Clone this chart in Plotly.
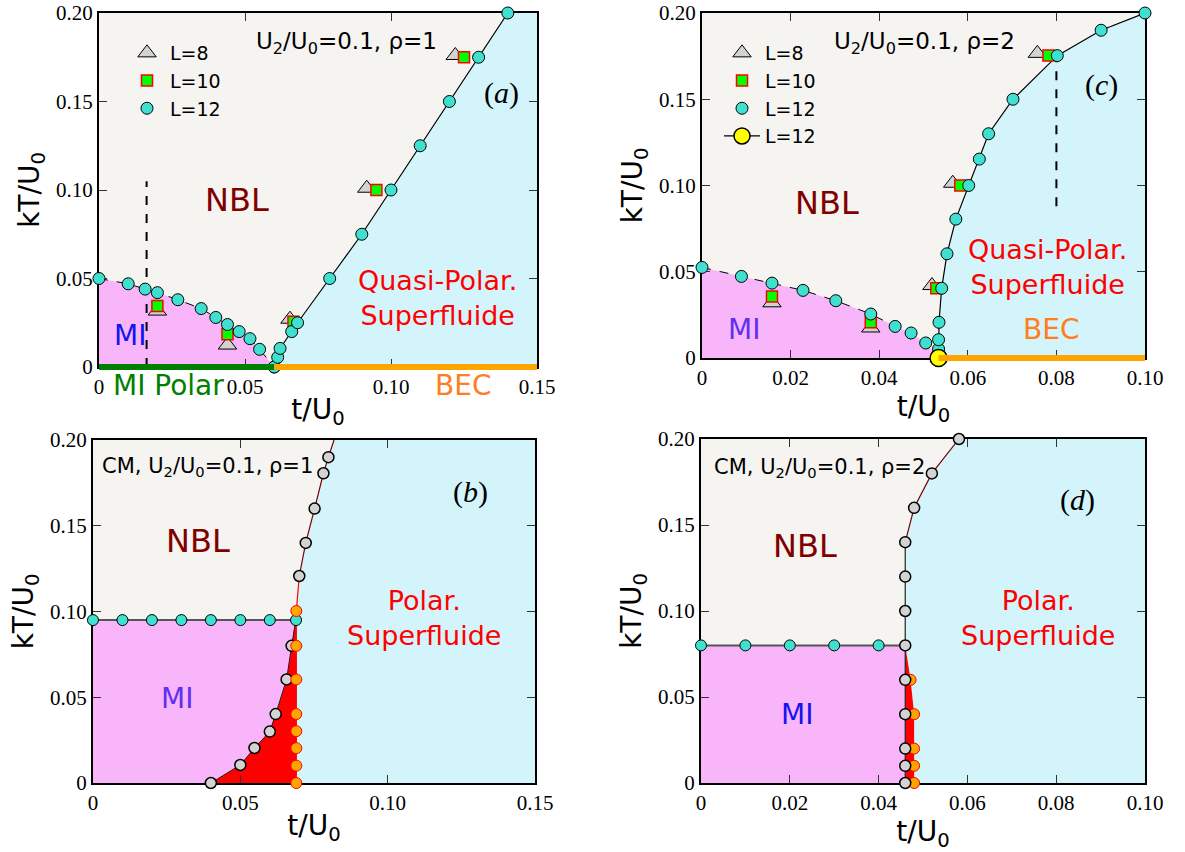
import plotly.graph_objects as go

# ---------------- Panel (a): U2/U0=0.1, rho=1 ----------------
a_mi_t = [0.0, 0.010, 0.0158, 0.020, 0.027, 0.035, 0.040, 0.044, 0.048, 0.0517, 0.055, 0.060]
a_mi_kT = [0.050, 0.047, 0.044, 0.042, 0.038, 0.033, 0.028, 0.024, 0.020, 0.016, 0.010, 0.0]
a_sf_t = [0.060, 0.0612, 0.062, 0.066, 0.068, 0.079, 0.090, 0.100, 0.110, 0.120, 0.130, 0.140]
a_sf_kT = [0.0, 0.0055, 0.0105, 0.020, 0.025, 0.050, 0.075, 0.100, 0.125, 0.150, 0.175, 0.200]
a_L10_t = [0.020, 0.044, 0.0666, 0.095, 0.125]
a_L10_kT = [0.0345, 0.0185, 0.0256, 0.100, 0.175]
a_L8_t = [0.020, 0.044, 0.0654, 0.0917, 0.122]
a_L8_kT = [0.0316, 0.0124, 0.027, 0.101, 0.176]
a_cross_t = [0.0163, 0.0163]
a_cross_kT = [0.0, 0.105]
a_mipolar_t = [0.0, 0.060]
a_mipolar_kT = [0.0, 0.0]
a_bec_t = [0.060, 0.150]
a_bec_kT = [0.0, 0.0]

# ---------------- Panel (c): U2/U0=0.1, rho=2 ----------------
c_mi_t = [0.0, 0.0089, 0.0158, 0.0228, 0.0302, 0.0381, 0.0436, 0.0472, 0.0505, 0.0534]
c_mi_kT = [0.0525, 0.0473, 0.0434, 0.0392, 0.0332, 0.0255, 0.0183, 0.0145, 0.0087, 0.0]
c_sf_t = [0.0534, 0.0534, 0.0534, 0.0535, 0.0541, 0.0553, 0.0573, 0.0602, 0.0626, 0.0647, 0.0702, 0.0802, 0.0901, 0.100]
c_sf_kT = [0.0, 0.0052, 0.0106, 0.0207, 0.0404, 0.0604, 0.0805, 0.100, 0.1153, 0.130, 0.150, 0.1753, 0.190, 0.200]
c_L10_t = [0.0158, 0.0381, 0.0529, 0.0583, 0.0782]
c_L10_kT = [0.0357, 0.0207, 0.0404, 0.100, 0.1753]
c_L8_t = [0.0158, 0.0381, 0.0519, 0.0566, 0.0757]
c_L8_kT = [0.032, 0.0174, 0.042, 0.1013, 0.1766]
c_yel_t = [0.0534]
c_yel_kT = [0.0]
c_cross_t = [0.080, 0.080]
c_cross_kT = [0.088, 0.175]
c_bec_t = [0.0534, 0.100]
c_bec_kT = [0.0, 0.0]

# ---------------- Panel (b): CM, rho=1 ----------------
b_mi_t = [0.0, 0.010, 0.020, 0.030, 0.040, 0.050, 0.060, 0.0689]
b_mi_kT = [0.095, 0.095, 0.095, 0.095, 0.095, 0.095, 0.095, 0.095]
b_low_t = [0.040, 0.050, 0.0548, 0.060, 0.062, 0.0657, 0.0674]
b_low_kT = [0.0, 0.0105, 0.0204, 0.030, 0.0402, 0.0604, 0.080]
b_up_t = [0.070, 0.0722, 0.0752, 0.0782, 0.0799]
b_up_kT = [0.1207, 0.140, 0.160, 0.1806, 0.190]
b_up_end_t = [0.0818]
b_up_end_kT = [0.200]
b_or_t = [0.069, 0.069, 0.069, 0.069, 0.069, 0.069, 0.069, 0.069]
b_or_kT = [0.0, 0.0101, 0.0203, 0.0302, 0.0402, 0.0604, 0.080, 0.1003]

# ---------------- Panel (d): CM, rho=2 ----------------
d_mi_t = [0.0, 0.010, 0.020, 0.030, 0.040]
d_mi_kT = [0.080, 0.080, 0.080, 0.080, 0.080]
d_gr_t = [0.046, 0.046, 0.046, 0.046, 0.046, 0.046, 0.046, 0.046, 0.046, 0.048, 0.052, 0.0581]
d_gr_kT = [0.0, 0.010, 0.020, 0.040, 0.060, 0.080, 0.100, 0.120, 0.140, 0.160, 0.180, 0.200]
d_or_t = [0.048, 0.048, 0.048, 0.048, 0.0472]
d_or_kT = [0.0, 0.010, 0.020, 0.040, 0.060]

# ---------------- axes ticks ----------------
tick15_vals = [0.0, 0.05, 0.10, 0.15]
tick15_text = ["0", "0.05", "0.10", "0.15"]
tick15_minor = [0.025, 0.075, 0.125]
tick10_vals = [0.0, 0.02, 0.04, 0.06, 0.08, 0.10]
tick10_text = ["0", "0.02", "0.04", "0.06", "0.08", "0.10"]
tick10_minor = [0.01, 0.03, 0.05, 0.07, 0.09]
ticky_vals = [0.0, 0.05, 0.10, 0.15, 0.20]
ticky_text = ["0", "0.05", "0.10", "0.15", "0.20"]
ticky_minor = [0.025, 0.075, 0.125, 0.175]

C_NBL = "#F5F4F0"
C_MI = "#F9B5F9"
C_SF = "#D4F4FC"
C_CYAN = "#40E0D0"
C_GRAY = "#D3D3D3"
C_ORANGE = "#FFA500"
SANS = "DejaVu Sans"
SERIF = "Liberation Serif"
KT_RANGE = [0, 0.20]

W, H = 1185, 852


def px2fx(px):
    return px / W


def px2fy(py):
    return 1 - py / H


fig = go.Figure()
shapes = []


def poly(ts, ks, xa, ya, color):
    pts = " L ".join(f"{t},{k}" for t, k in zip(ts, ks))
    shapes.append(dict(type="path", path="M " + pts + " Z", xref=xa, yref=ya,
                       fillcolor=color, line=dict(width=0), layer="below"))


def bar(ts, ks, xa, ya, color):
    # horizontal phase bar on the kT axis; y given as fraction of the kT range
    f0 = (ks[0] - KT_RANGE[0]) / (KT_RANGE[1] - KT_RANGE[0])
    f1 = (ks[1] - KT_RANGE[0]) / (KT_RANGE[1] - KT_RANGE[0])
    shapes.append(dict(type="line", xref=xa, yref=ya + " domain", x0=ts[0], x1=ts[1],
                       y0=f0, y1=f1, line=dict(color=color, width=6), layer="above"))


def line(ts, ks, xa, ya, color="black", width=1.2, dash="solid"):
    fig.add_trace(go.Scatter(x=ts, y=ks, xaxis=xa, yaxis=ya, mode="lines",
                             line=dict(color=color, width=width, dash=dash),
                             showlegend=False, cliponaxis=False, hoverinfo="skip"))


def marks(ts, ks, xa, ya, symbol, size, color, lcolor="black", lwidth=1.0,
          name=None, legend=None, mode="markers"):
    fig.add_trace(go.Scatter(x=ts, y=ks, xaxis=xa, yaxis=ya, mode=mode,
                             marker=dict(symbol=symbol, size=size, color=color,
                                         line=dict(color=lcolor, width=lwidth)),
                             line=dict(color="black", width=1.2),
                             name=name, showlegend=name is not None,
                             legend=legend if legend else "legend",
                             cliponaxis=False))


# ===== Panel (a) =====
poly(a_mi_t + [0.0], a_mi_kT + [0.0], "x", "y", C_MI)
poly(a_sf_t + [0.15, 0.15], a_sf_kT + [0.20, 0.0], "x", "y", C_SF)
line(a_mi_t, a_mi_kT, "x", "y", width=1, dash="dash")
line(a_sf_t, a_sf_kT, "x", "y")
line(a_cross_t, a_cross_kT, "x", "y", width=2, dash="dash")
bar(a_mipolar_t, a_mipolar_kT, "x", "y", "#008000")
bar(a_bec_t, a_bec_kT, "x", "y", C_ORANGE)
marks(a_L8_t, a_L8_kT, "x", "y", "triangle-up", 16, C_GRAY, name="L=8", legend="legend")
marks(a_L10_t, a_L10_kT, "x", "y", "square", 11, "#00FF00", lcolor="#FF0000", lwidth=1.5,
      name="L=10", legend="legend")
marks(a_mi_t + a_sf_t, a_mi_kT + a_sf_kT, "x", "y", "circle", 12, C_CYAN, name="L=12",
      legend="legend")

# ===== Panel (c) =====
poly(c_mi_t + [0.0], c_mi_kT + [0.0], "x2", "y2", C_MI)
poly(c_sf_t + [0.10, 0.10], c_sf_kT + [0.20, 0.0], "x2", "y2", C_SF)
line(c_mi_t, c_mi_kT, "x2", "y2", width=1, dash="dash")
line(c_sf_t, c_sf_kT, "x2", "y2")
line(c_cross_t, c_cross_kT, "x2", "y2", width=2, dash="dash")
bar(c_bec_t, c_bec_kT, "x2", "y2", C_ORANGE)
marks(c_L8_t, c_L8_kT, "x2", "y2", "triangle-up", 16, C_GRAY, name="L=8", legend="legend2")
marks(c_L10_t, c_L10_kT, "x2", "y2", "square", 11, "#00FF00", lcolor="#FF0000", lwidth=1.5,
      name="L=10", legend="legend2")
marks(c_mi_t + c_sf_t, c_mi_kT + c_sf_kT, "x2", "y2", "circle", 12, C_CYAN, name="L=12",
      legend="legend2")
marks(c_yel_t, c_yel_kT, "x2", "y2", "circle", 17, "#FFFF00", lwidth=1.5, name="L=12",
      legend="legend2", mode="lines+markers")

# ===== Panel (b) =====
poly([b_or_t[0]] + b_or_t[-1:] + b_up_t + b_up_end_t + [0.15, 0.15],
     [b_or_kT[0]] + b_or_kT[-1:] + b_up_kT + b_up_end_kT + [0.20, 0.0], "x3", "y3", C_SF)
poly([0.0, 0.0] + b_mi_t[-1:] + b_mi_t[-1:], [0.0] + b_mi_kT[:1] + b_mi_kT[-1:] + [0.0],
     "x3", "y3", C_MI)
poly(b_low_t + b_or_t[::-1], b_low_kT + b_or_kT[::-1], "x3", "y3", "#FF0000")
line(b_mi_t, b_mi_kT, "x3", "y3", color="#555555", width=2)
line(b_low_t + b_mi_t[-1:], b_low_kT + b_mi_kT[-1:], "x3", "y3", color="#222222", width=1)
line(b_or_t + b_up_t[:1], b_or_kT + b_up_kT[:1], "x3", "y3", color="#FF0000", width=1.2)
line(b_up_t + b_up_end_t, b_up_kT + b_up_end_kT, "x3", "y3", color="#7A0000", width=1.2)
marks(b_low_t + b_up_t, b_low_kT + b_up_kT, "x3", "y3", "circle", 11, C_GRAY, lwidth=1.5)
marks(b_mi_t, b_mi_kT, "x3", "y3", "circle", 11, C_CYAN)
marks(b_or_t, b_or_kT, "x3", "y3", "circle", 11, C_ORANGE, lcolor="#FF0000", lwidth=1)

# ===== Panel (d) =====
poly(d_gr_t + [0.10, 0.10], d_gr_kT + [0.20, 0.0], "x4", "y4", C_SF)
poly([0.0, 0.0, d_gr_t[5], d_gr_t[0]], [0.0, d_mi_kT[0], d_gr_kT[5], 0.0], "x4", "y4", C_MI)
poly(d_gr_t[5:6] + d_gr_t[:1] + d_or_t, d_gr_kT[5:6] + d_gr_kT[:1] + d_or_kT,
     "x4", "y4", "#FF0000")
line(d_mi_t + d_gr_t[5:6], d_mi_kT + d_gr_kT[5:6], "x4", "y4", color="#555555", width=2)
line(d_gr_t[:9], d_gr_kT[:9], "x4", "y4", color="#222222", width=1.2)
line(d_gr_t[8:], d_gr_kT[8:], "x4", "y4", color="#7A0000", width=1.2)
marks(d_or_t, d_or_kT, "x4", "y4", "circle", 11, C_ORANGE, lcolor="#FF0000", lwidth=1)
marks(d_gr_t, d_gr_kT, "x4", "y4", "circle", 11, C_GRAY, lwidth=1.5)
marks(d_mi_t, d_mi_kT, "x4", "y4", "circle", 11, C_CYAN)


# ---------------- layout ----------------
def axis(domain, rng, vals, text, title, standoff):
    return dict(domain=domain, range=rng, tickmode="array", tickvals=vals, ticktext=text,
                showline=True, linecolor="black", linewidth=2, mirror="allticks",
                ticks="inside", ticklen=8, tickwidth=1, tickcolor="#333333",
                showgrid=False, zeroline=False, layer="below traces", automargin=False,
                ticklabeloverflow="allow",
                tickfont=dict(family=SERIF, size=21, color="black"),
                title=dict(text=title, standoff=standoff,
                           font=dict(family=SANS, size=28, color="black")))


def minor_axis(over, anchor, rng, vals):
    # overlay axis carrying only the unlabeled minor ticks
    return dict(overlaying=over, anchor=anchor, range=rng, tickmode="array", tickvals=vals,
                showticklabels=False, ticks="inside", ticklen=6, tickwidth=1,
                tickcolor="#333333", mirror="ticks", showline=False, showgrid=False,
                zeroline=False, layer="below traces", automargin=False)


XT = "t/U<sub>0</sub>"
YT = "kT/U<sub>0</sub>"
dom = {
    "x": [px2fx(99), px2fx(537)], "y": [px2fy(367), px2fy(13)],
    "x2": [px2fx(702), px2fx(1145)], "y2": [px2fy(358), px2fy(13)],
    "x3": [px2fx(93), px2fx(535)], "y3": [px2fy(783), px2fy(440)],
    "x4": [px2fx(701), px2fx(1145)], "y4": [px2fy(783), px2fy(439)],
}
fig.update_layout(
    template="none", width=W, height=H, autosize=False,
    margin=dict(l=0, r=0, t=0, b=0),
    paper_bgcolor="white", plot_bgcolor=C_NBL,
    font=dict(family=SANS, color="black"),
    xaxis=dict(axis(dom["x"], [0, 0.15], tick15_vals, tick15_text, XT, 1), anchor="y"),
    yaxis=dict(axis(dom["y"], KT_RANGE, ticky_vals, ticky_text, YT, 8), anchor="x"),
    xaxis2=dict(axis(dom["x2"], [0, 0.10], tick10_vals, tick10_text, XT, 1), anchor="y2"),
    yaxis2=dict(axis(dom["y2"], KT_RANGE, ticky_vals, ticky_text, YT, 8), anchor="x2"),
    xaxis3=dict(axis(dom["x3"], [0, 0.15], tick15_vals, tick15_text, XT, 1), anchor="y3"),
    yaxis3=dict(axis(dom["y3"], KT_RANGE, ticky_vals, ticky_text, YT, 8), anchor="x3"),
    xaxis4=dict(axis(dom["x4"], [0, 0.10], tick10_vals, tick10_text, XT, 1), anchor="y4"),
    yaxis4=dict(axis(dom["y4"], KT_RANGE, ticky_vals, ticky_text, YT, 8), anchor="x4"),
    xaxis5=minor_axis("x", "y", [0, 0.15], tick15_minor),
    yaxis5=minor_axis("y", "x", KT_RANGE, ticky_minor),
    xaxis6=minor_axis("x2", "y2", [0, 0.10], tick10_minor),
    yaxis6=minor_axis("y2", "x2", KT_RANGE, ticky_minor),
    xaxis7=minor_axis("x3", "y3", [0, 0.15], tick15_minor),
    yaxis7=minor_axis("y3", "x3", KT_RANGE, ticky_minor),
    xaxis8=minor_axis("x4", "y4", [0, 0.10], tick10_minor),
    yaxis8=minor_axis("y4", "x4", KT_RANGE, ticky_minor),
    legend=dict(x=px2fx(124), y=px2fy(34), xanchor="left", yanchor="top",
                bgcolor="rgba(0,0,0,0)", font=dict(family=SANS, size=19),
                tracegroupgap=0, itemwidth=36),
    legend2=dict(x=px2fx(719), y=px2fy(34), xanchor="left", yanchor="top",
                 bgcolor="rgba(0,0,0,0)", font=dict(family=SANS, size=19),
                 tracegroupgap=0, itemwidth=36),
    shapes=shapes,
)

annots = []


def note(s, fx, fy, text, size, color, family=SANS):
    annots.append(dict(xref=f"x{s} domain", yref=f"y{s} domain", x=fx, y=fy, text=text,
                       showarrow=False, xanchor="center", yanchor="middle",
                       font=dict(family=family, size=size, color=color)))


# (a)
note("", 0.566, 0.915, "U<sub>2</sub>/U<sub>0</sub>=0.1, ρ=1", 23, "black")
note("", 0.920, 0.774, "(<i>a</i>)", 30, "black", SERIF)
note("", 0.315, 0.472, "NBL", 32, "#800000")
note("", 0.071, 0.090, "MI", 28, "#1414F0")
note("", 0.773, 0.196, "Quasi-Polar.<br>Superfluide", 27, "#FF0000")
note("", 0.158, -0.051, "MI Polar", 28, "#008000")
note("", 0.831, -0.051, "BEC", 28, "#FF7F1E")
# (c)
note("2", 0.503, 0.913, "U<sub>2</sub>/U<sub>0</sub>=0.1, ρ=2", 23, "black")
note("2", 0.902, 0.791, "(<i>c</i>)", 30, "black", SERIF)
note("2", 0.282, 0.449, "NBL", 32, "#800000")
note("2", 0.095, 0.084, "MI", 28, "#6030F0")
note("2", 0.781, 0.263, "Quasi-Polar.<br>Superfluide", 27, "#FF0000")
note("2", 0.788, 0.084, "BEC", 28, "#FF7F1E")
# (b)
note("3", 0.258, 0.921, "CM, U<sub>2</sub>/U<sub>0</sub>=0.1, ρ=1", 21, "black")
note("3", 0.853, 0.848, "(<i>b</i>)", 30, "black", SERIF)
note("3", 0.238, 0.705, "NBL", 32, "#800000")
note("3", 0.190, 0.245, "MI", 28, "#6030F0")
note("3", 0.750, 0.482, "Polar.<br>Superfluide", 27, "#FF0000")
# (d)
note("4", 0.268, 0.916, "CM, U<sub>2</sub>/U<sub>0</sub>=0.1, ρ=2", 21, "black")
note("4", 0.847, 0.823, "(<i>d</i>)", 30, "black", SERIF)
note("4", 0.234, 0.689, "NBL", 32, "#800000")
note("4", 0.216, 0.200, "MI", 28, "#1414F0")
note("4", 0.759, 0.481, "Polar.<br>Superfluide", 27, "#FF0000")

fig.update_layout(annotations=annots)
fig.write_html("out.html", config=dict(displayModeBar=False),
               post_script="document.body.style.margin='0px';")
